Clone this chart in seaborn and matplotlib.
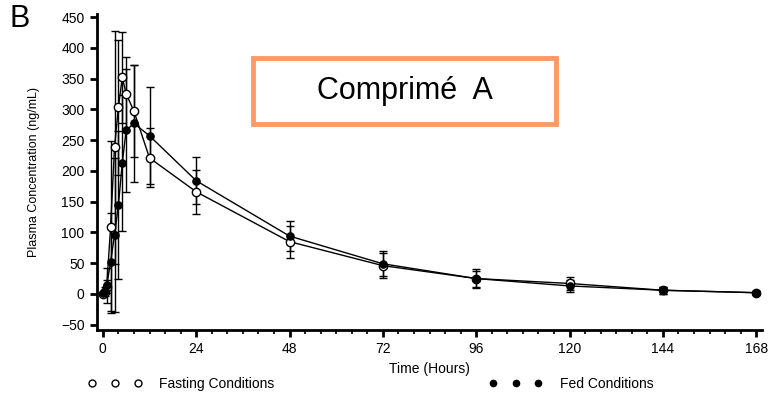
import matplotlib
matplotlib.use("Agg")
import matplotlib.pyplot as plt
import seaborn as sns
import pandas as pd
from matplotlib.lines import Line2D
from matplotlib.patches import Rectangle
from matplotlib.ticker import MultipleLocator

sns.set_theme(style="ticks")
plt.rcParams['font.family'] = ['Liberation Sans', 'DejaVu Sans']
plt.rcParams['text.color'] = 'black'
plt.rcParams['axes.labelcolor'] = 'black'

# ---- data ----
time_h = [0, 0.5, 1, 2, 3, 4, 5, 6, 8, 12, 24, 48, 72, 96, 120, 144, 168]
fasting_mean = [0, 3, 12, 109, 238, 303, 352, 325, 297, 221, 166, 85, 46, 25, 17, 6, 2]
fasting_sd = [0, 3, 10, 140, 190, 110, 74, 60, 75, 48, 36, 26, 20, 15, 10, 6, 2]
fed_mean = [1, 4, 14, 52, 96, 144, 213, 266, 277, 257, 184, 94, 49, 25, 13, 6, 2]
fed_sd = [0, 8, 28, 80, 125, 120, 110, 100, 95, 79, 38, 25, 20, 13, 10, 6, 2]
x_ticks = [0, 24, 48, 72, 96, 120, 144, 168]
y_ticks = [-50, 0, 50, 100, 150, 200, 250, 300, 350, 400, 450]
series_names = ["Fasting Conditions", "Fed Conditions"]

df = pd.DataFrame({
    "Time": time_h * 2,
    "Conc": fasting_mean + fed_mean,
    "Condition": [series_names[0]] * len(time_h) + [series_names[1]] * len(time_h),
})

fig = plt.figure(figsize=(7.76, 3.98), dpi=100)
ax = fig.add_axes([0.125, 0.171, 0.857, 0.794])

# error bars
ax.errorbar(time_h, fasting_mean, yerr=fasting_sd, fmt="none", ecolor="black",
            elinewidth=1.0, capsize=3.2, capthick=1.0, zorder=2)
ax.errorbar(time_h, fed_mean, yerr=fed_sd, fmt="none", ecolor="black",
            elinewidth=1.0, capsize=3.2, capthick=1.0, zorder=2)

# lines
sns.lineplot(data=df, x="Time", y="Conc", hue="Condition", units="Condition",
             estimator=None, palette=["black", "black"], linewidth=1.0,
             legend=False, ax=ax, zorder=3)

# markers
ax.plot(time_h, fasting_mean, linestyle="none", marker="o", markersize=6,
        markerfacecolor="white", markeredgecolor="black", markeredgewidth=1.0, zorder=4)
ax.plot(time_h, fed_mean, linestyle="none", marker="o", markersize=5.2,
        markerfacecolor="black", markeredgecolor="black", zorder=5)

ax.set_xlim(-1.5, 169.5)
ax.set_ylim(-58.5, 455)
ax.set_xticks(x_ticks)
ax.set_yticks(y_ticks)
ax.set_yticklabels(["\u221250" if v < 0 else str(v) for v in y_ticks])
ax.xaxis.set_minor_locator(MultipleLocator(4))
ax.tick_params(axis="both", which="major", direction="out", length=5, width=2,
               labelsize=10, pad=4, colors="black")
ax.tick_params(axis="x", which="minor", direction="out", length=3, width=1.5)
for s in ["top", "right"]:
    ax.spines[s].set_visible(False)
for s in ["left", "bottom"]:
    ax.spines[s].set_linewidth(2)
    ax.spines[s].set_color("black")

ax.set_xlabel("Time (Hours)", fontsize=10, labelpad=4)
ax.set_ylabel("Plasma Concentration (ng/mL)", fontsize=9, labelpad=15)

# panel letter
fig.text(0.012, 0.953, "B", fontsize=22, ha="left", va="center")

# title box
fig.patches.append(Rectangle((253 / 776, 1 - 124 / 398), 303 / 776, 66 / 398,
                             transform=fig.transFigure, facecolor="white",
                             edgecolor="#FF9966", linewidth=3.5, zorder=10))
fig.text(405 / 776, 1 - 91 / 398, "Comprimé  A", fontsize=22, ha="center",
         va="center", zorder=11)

# legend
handles = [
    Line2D([0], [0], linestyle="none", marker="o", markersize=5,
           markerfacecolor="white", markeredgecolor="black", markeredgewidth=1.0),
    Line2D([0], [0], linestyle="none", marker="o", markersize=4.5,
           markerfacecolor="black", markeredgecolor="black"),
]
fig.legend(handles, series_names, loc="center left", bbox_to_anchor=(0.097, 0.035),
           ncol=2, numpoints=3, frameon=False, fontsize=10, handlelength=3.9,
           handletextpad=1.25, columnspacing=15.4)

fig.savefig("out.png", dpi=100)
